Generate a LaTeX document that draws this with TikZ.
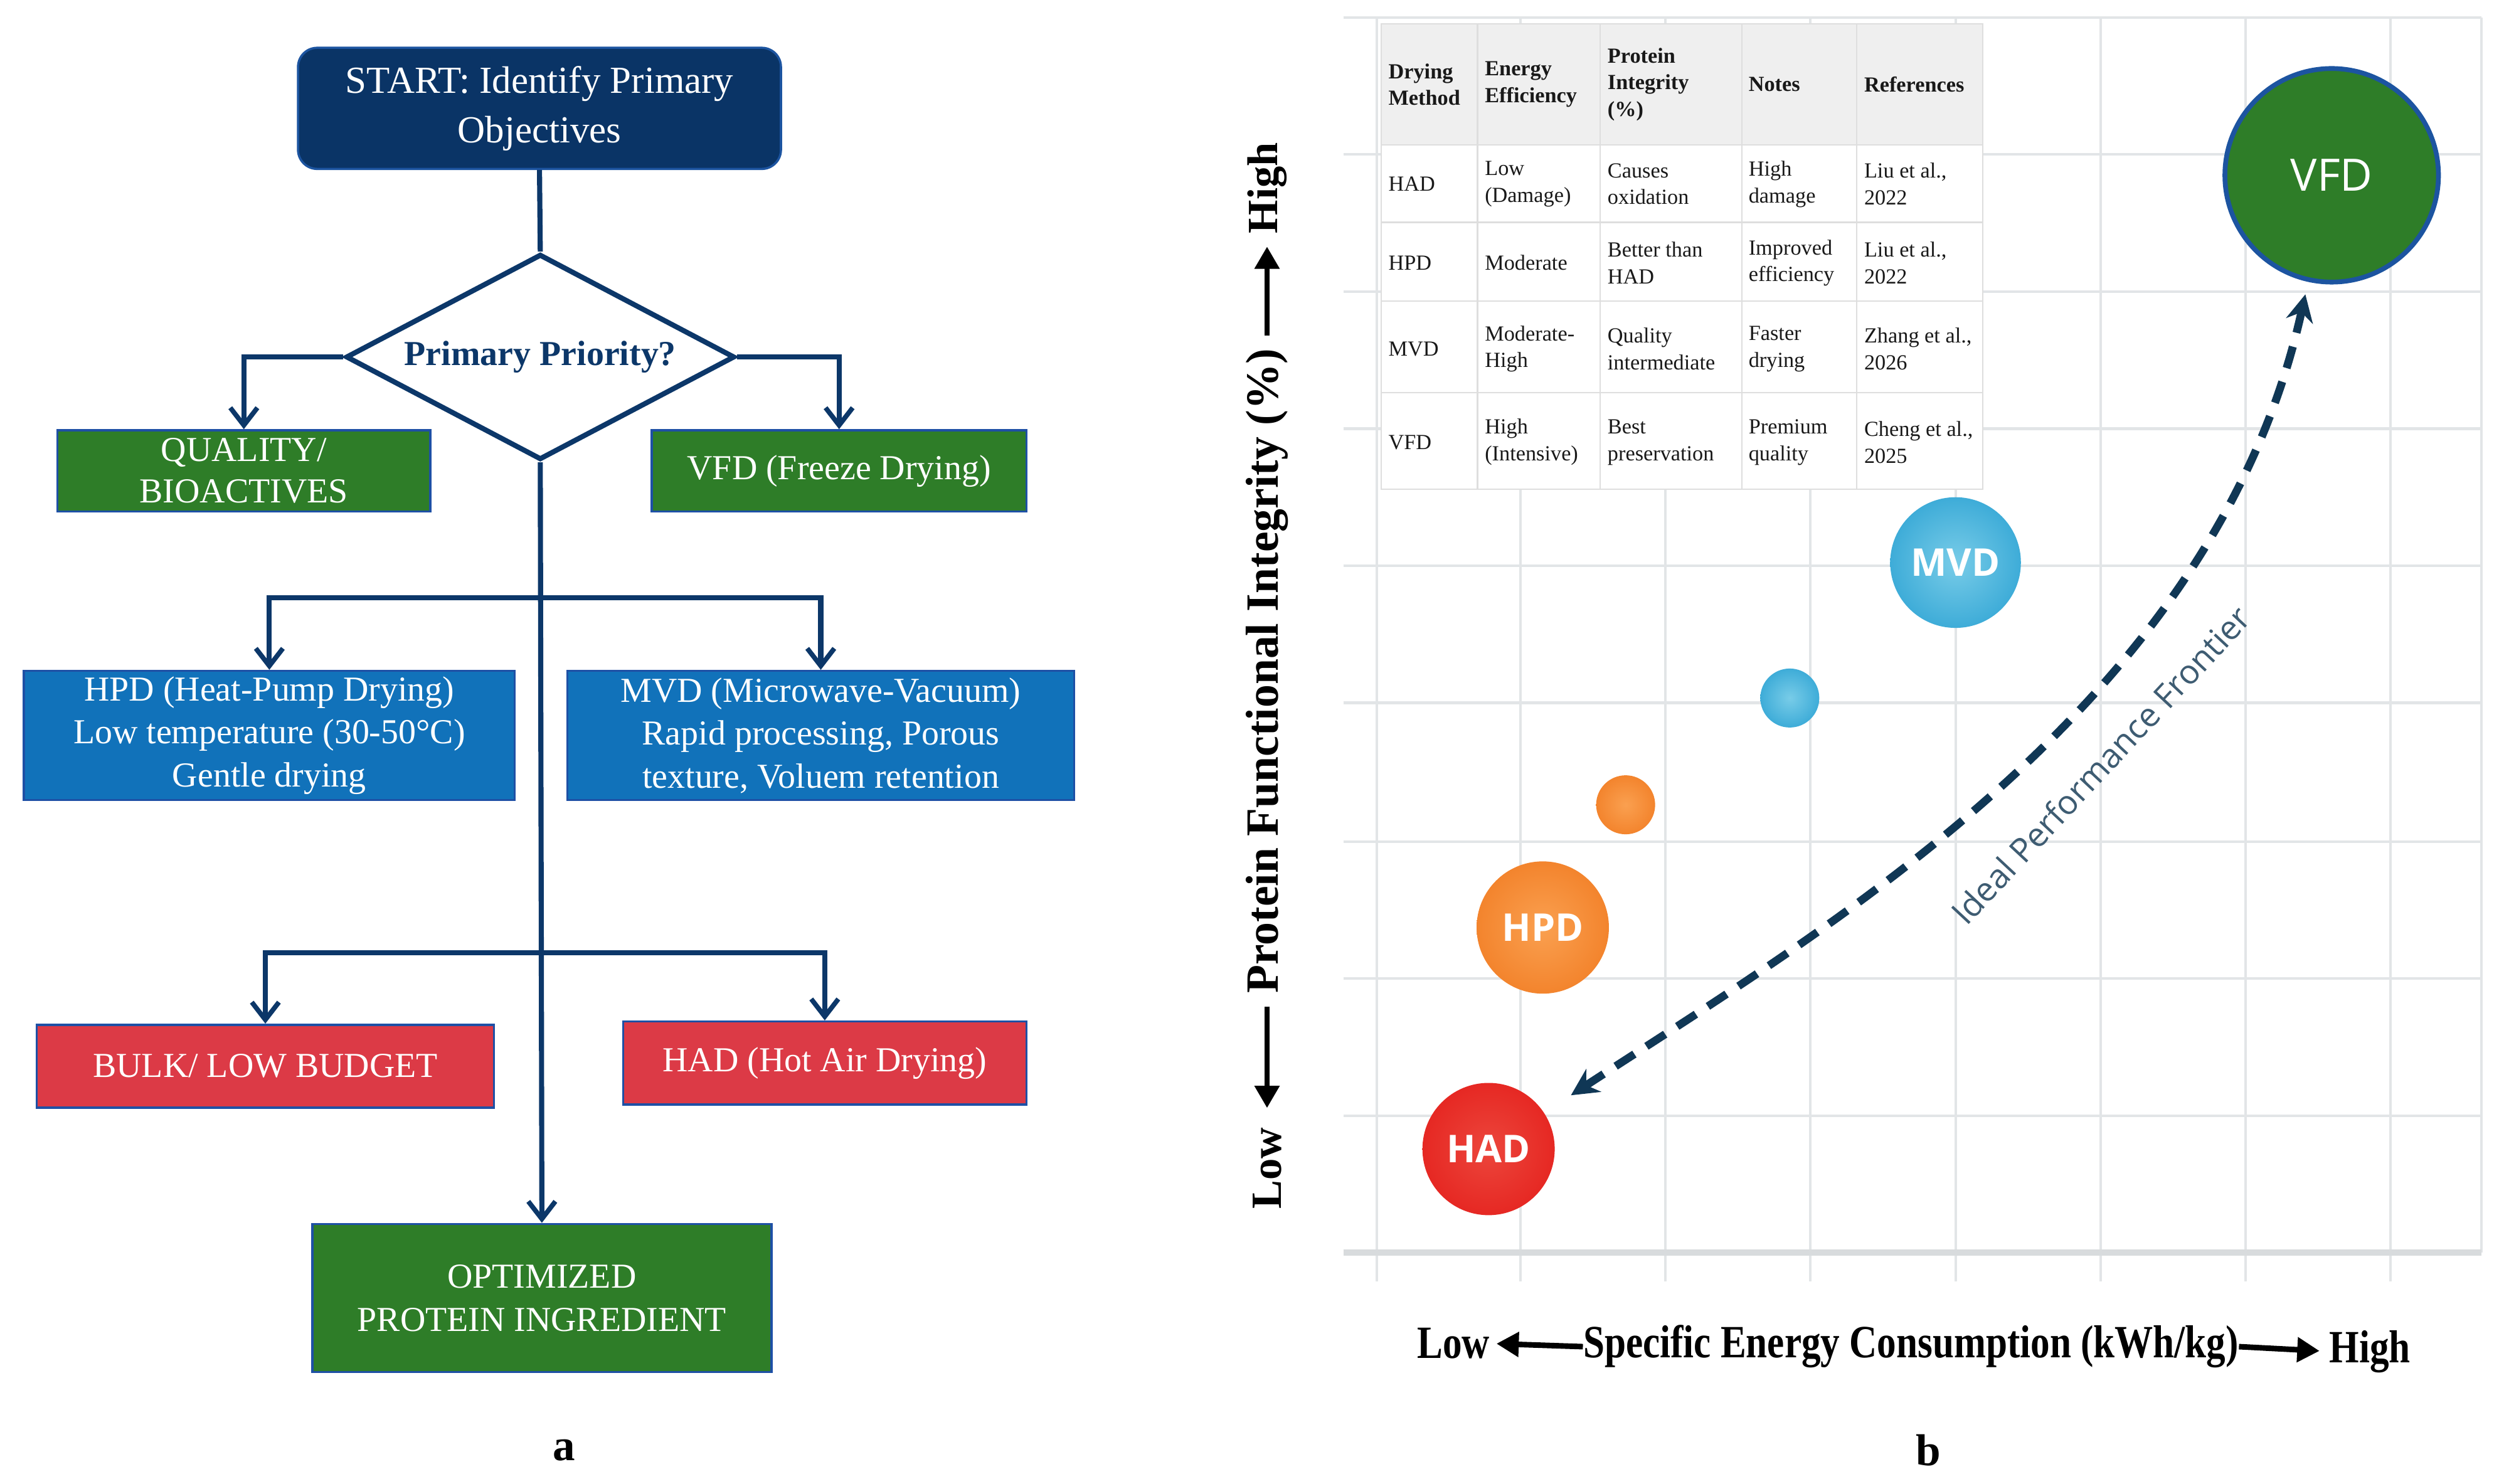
\documentclass[tikz,border=0pt]{standalone}
\usepackage{fontspec}
\setmainfont{Liberation Serif}
\newfontfamily\osans{Open Sans}
\usetikzlibrary{arrows.meta,shapes.geometric}
\definecolor{navy}{RGB}{12,55,105}
\definecolor{startfill}{RGB}{10,52,102}
\definecolor{boxgreen}{RGB}{46,125,40}
\definecolor{boxblue}{RGB}{17,114,186}
\definecolor{boxred}{RGB}{220,58,70}
\definecolor{boxedge}{RGB}{30,80,165}
\definecolor{gridc}{RGB}{226,229,231}
\definecolor{frontier}{RGB}{16,55,85}
\definecolor{frontiertxt}{RGB}{62,92,114}
\definecolor{tabline}{RGB}{222,222,222}
\definecolor{tabhead}{RGB}{239,239,239}
\definecolor{vfdedge}{RGB}{28,84,160}
\begin{document}
\begin{tikzpicture}[x=1pt,y=-1pt,
  flowbox/.style={rectangle, draw=boxedge, line width=1.4pt, text=white, align=center, inner sep=0pt, font=\fontsize{22}{27}\selectfont},
  boxg/.style={flowbox, fill=boxgreen},
  boxb/.style={flowbox, fill=boxblue},
  boxr/.style={flowbox, fill=boxred},
  flow/.style={draw=navy, line width=3.2pt},
  flowarrow/.style={flow, -{Straight Barb[length=11pt,width=17pt,line width=3pt]}},
  gridline/.style={draw=gridc, line width=1.6pt},
  gridaxis/.style={draw=gridc!90!gray, line width=4pt},
  tabrule/.style={draw=tabline, line width=0.9pt},
  tcell/.style={anchor=west, align=left, inner sep=0pt, text=black!90, font=\fontsize{13.5}{16.8}\selectfont},
  thead/.style={tcell, font=\fontsize{13.5}{16.8}\selectfont\bfseries},
  bubble/.style={circle, inner sep=0pt, text=white, font=\osans\bfseries\fontsize{24}{24}\selectfont},
  frontierarrow/.style={draw=frontier, line width=5pt, dash pattern=on 14pt off 9pt, arrows={Stealth[length=17pt,width=17pt]-Stealth[length=17pt,width=17pt]}},
  axlab/.style={inner sep=0pt, font=\fontsize{29}{29}\selectfont\bfseries, text=black},
  axarrow/.style={draw=black, line width=3.5pt, -{Triangle[length=14pt,width=15pt]}},
  panellab/.style={inner sep=0pt, font=\fontsize{28}{28}\selectfont\bfseries}
]
\fill[white] (0,0) rectangle (1568,931);
\useasboundingbox (0,0) rectangle (1568,931);

% ---------------- panel a ----------------
\node[flowbox, fill=startfill, draw=vfdedge, rounded corners=12pt, minimum width=303pt, minimum height=76pt, font=\fontsize{24}{31}\selectfont] (start) at (338.5,68) {START: Identify Primary\\Objectives};
\node[diamond, draw=navy, line width=3.2pt, fill=white, aspect=1.89, inner sep=0pt, minimum width=244pt, minimum height=129pt, text=navy, font=\fontsize{22}{22}\selectfont\bfseries] (dia) at (339,224) {Primary Priority?};
\node[boxg, minimum width=234pt, minimum height=51pt, font=\fontsize{22}{26}\selectfont] (qual) at (153,295.5) {QUALITY/\\BIOACTIVES};
\node[boxg, minimum width=235pt, minimum height=51pt] (vfdbox) at (526.5,295.5) {VFD (Freeze Drying)};
\node[boxb, minimum width=308pt, minimum height=81pt] (hpd) at (169,461.5) {HPD (Heat-Pump Drying)\\Low temperature (30-50°C)\\Gentle drying};
\node[boxb, minimum width=318pt, minimum height=81pt] (mvd) at (515,461.5) {MVD (Microwave-Vacuum)\\Rapid processing, Porous\\texture, Voluem retention};
\node[boxr, minimum width=287pt, minimum height=52pt] (bulk) at (166.5,669) {BULK/ LOW BUDGET};
\node[boxr, minimum width=253pt, minimum height=52pt] (hadbox) at (517.5,667) {HAD (Hot Air Drying)};
\node[boxg, minimum width=288pt, minimum height=93pt] (opt) at (340,814.5) {OPTIMIZED\\PROTEIN INGREDIENT};

\coordinate (br1) at (339,375);
\coordinate (br2) at (339,598);
\draw[flow] (start.south) -- (dia.north);
\draw[flowarrow] (dia.west) -| (qual.north);
\draw[flowarrow] (dia.east) -| (vfdbox.north);
\draw[flowarrow] (dia.south) -- (opt.north);
\draw[flowarrow] (br1) -| (hpd.north);
\draw[flowarrow] (br1) -| (mvd.north);
\draw[flowarrow] (br2) -| (bulk.north);
\draw[flowarrow] (br2) -| (hadbox.north);

\node[panellab] (pa) at (354,910) {a};

% ---------------- panel b ----------------
\foreach \y in {11,97,183,269,355,441,528,614,700}
  \draw[gridline] (843,\y) -- (1557,\y);
\foreach \x in {864,954,1045,1136,1227,1318,1409,1500}
  \draw[gridline] (\x,11) -- (\x,804);
\draw[gridline] (1557,11) -- (1557,786);
\draw[gridaxis] (843,786) -- (1557,786);

% table
\fill[white] (866.5,15) rectangle (1244,307);
\fill[tabhead] (866.5,15) rectangle (1244,91);
\foreach \y in {91,139.5,189,246.4}
  \draw[tabrule] (866.5,\y) -- (1244,\y);
\foreach \x in {927,1004,1093,1165}
  \draw[tabrule] (\x,15) -- (\x,307);
\draw[tabrule] (866.5,15) rectangle (1244,307);

\node[thead] (h1) at (871,53) {Drying\\Method};
\node[thead] (h2) at (931.5,53) {Energy\\Efficiency};
\node[thead] (h3) at (1008.5,53) {Protein\\Integrity\\(\%)};
\node[thead] (h4) at (1097,53) {Notes};
\node[thead] (h5) at (1169.5,53) {References};

\node[tcell] (r1c1) at (871,115.5) {HAD};
\node[tcell] (r1c2) at (931.5,115.5) {Low\\(Damage)};
\node[tcell] (r1c3) at (1008.5,115.5) {Causes\\oxidation};
\node[tcell] (r1c4) at (1097,115.5) {High\\damage};
\node[tcell] (r1c5) at (1169.5,115.5) {Liu et al.,\\2022};

\node[tcell] (r2c1) at (871,165) {HPD};
\node[tcell] (r2c2) at (931.5,165) {Moderate};
\node[tcell] (r2c3) at (1008.5,165) {Better than\\HAD};
\node[tcell] (r2c4) at (1097,165) {Improved\\efficiency};
\node[tcell] (r2c5) at (1169.5,165) {Liu et al.,\\2022};

\node[tcell] (r3c1) at (871,219) {MVD};
\node[tcell] (r3c2) at (931.5,219) {Moderate-\\High};
\node[tcell] (r3c3) at (1008.5,219) {Quality\\intermediate};
\node[tcell] (r3c4) at (1097,219) {Faster\\drying};
\node[tcell] (r3c5) at (1169.5,219) {Zhang et al.,\\2026};

\node[tcell] (r4c1) at (871,277.5) {VFD};
\node[tcell] (r4c2) at (931.5,277.5) {High\\(Intensive)};
\node[tcell] (r4c3) at (1008.5,277.5) {Best\\preservation};
\node[tcell] (r4c4) at (1097,277.5) {Premium\\quality};
\node[tcell] (r4c5) at (1169.5,277.5) {Cheng et al.,\\2025};

% bubbles
\node[bubble, minimum size=134pt, fill=boxgreen, draw=vfdedge, line width=3pt, font=\osans\fontsize{28}{28}\selectfont] (vfdb) at (1463,110) {VFD};
\node[bubble, minimum size=82pt, inner color={rgb,255:red,120;green,204;blue,232}, outer color={rgb,255:red,62;green,172;blue,216}] (mvdb) at (1227,353) {MVD};
\node[bubble, minimum size=37pt, inner color={rgb,255:red,120;green,204;blue,232}, outer color={rgb,255:red,62;green,172;blue,216}] (dotb) at (1123,438) {};
\node[bubble, minimum size=37pt, inner color={rgb,255:red,250;green,160;blue,80}, outer color={rgb,255:red,243;green,132;blue,45}] (doto) at (1020,505) {};
\node[bubble, minimum size=83pt, inner color={rgb,255:red,250;green,160;blue,80}, outer color={rgb,255:red,243;green,132;blue,45}] (hpdb) at (968,582) {HPD};
\node[bubble, minimum size=83pt, inner color={rgb,255:red,236;green,70;blue,60}, outer color={rgb,255:red,230;green,40;blue,35}] (hadb) at (934,721) {HAD};

% frontier
\draw[frontierarrow, shorten <=20pt, shorten >=8pt] (hadb) .. controls (1150,580) and (1390,440) .. (vfdb);
\node[rotate=47, inner sep=0pt, text=frontiertxt, font=\osans\fontsize{21}{21}\selectfont] (ftxt) at (1318,480) {Ideal Performance Frontier};

% axes labels
\node[axlab] (xlow) at (912,843) {\scalebox{0.83}[1]{Low}};
\node[axlab] (xtitle) at (1199,845) {\scalebox{0.83}[1]{Specific Energy Consumption (kWh/kg)}};
\node[axlab] (xhigh) at (1487,848) {\scalebox{0.83}[1]{High}};
\draw[axarrow, shorten >=4pt] (xtitle.west) -- (xlow.east);
\draw[axarrow, shorten >=6pt] (xtitle.east) -- (xhigh.west);

\node[axlab, rotate=90, font=\fontsize{27}{27}\selectfont\bfseries] (ylow) at (795,733) {Low};
\node[axlab, rotate=90] (ytitle) at (795,421) {Protein Functional Integrity (\%)};
\node[axlab, rotate=90, font=\fontsize{27}{27}\selectfont\bfseries] (yhigh) at (795,118) {High};
\draw[axarrow, shorten <=8pt, shorten >=12pt] (ytitle.west) -- (ylow.east);
\draw[axarrow, shorten <=8pt, shorten >=8pt] (ytitle.east) -- (yhigh.west);

\node[panellab] (pb) at (1210,910) {b};
\end{tikzpicture}
\end{document}
